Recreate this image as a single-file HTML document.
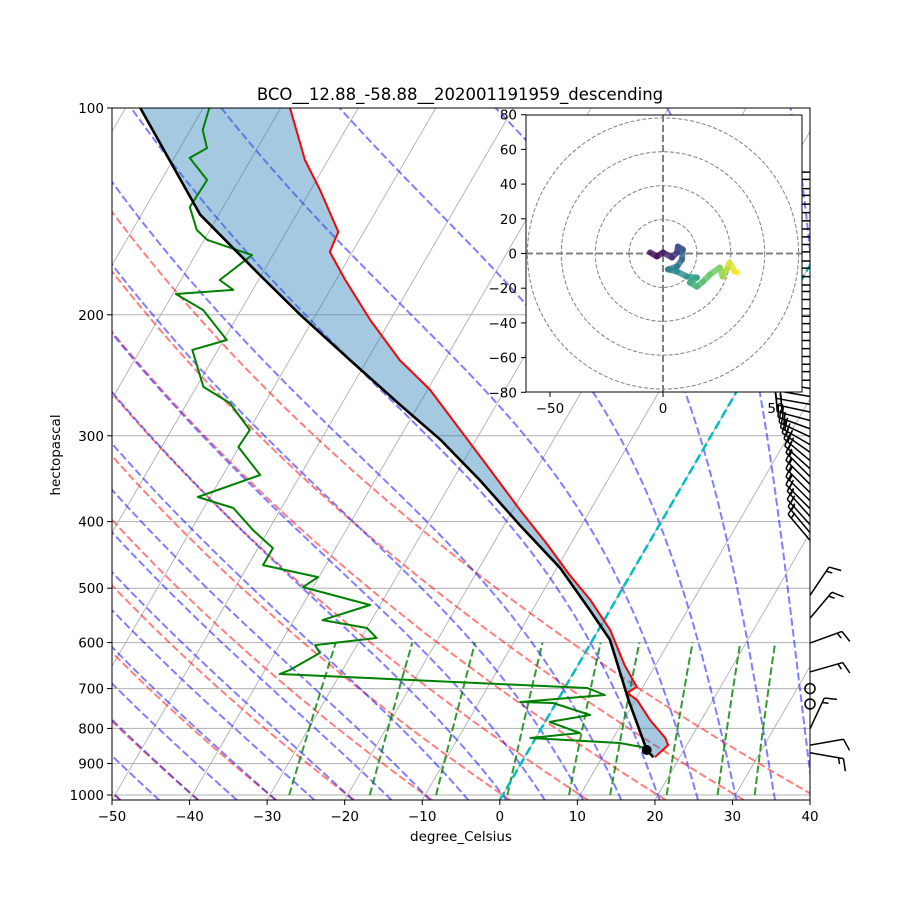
<!DOCTYPE html>
<html><head><meta charset="utf-8"><title>Skew-T</title>
<style>
html,body{margin:0;padding:0;background:#fff;}
svg{display:block;font-family:"DejaVu Sans","Liberation Sans",sans-serif;}
</style></head>
<body>
<svg id="chart" xmlns="http://www.w3.org/2000/svg" width="900" height="900" viewBox="0 0 900 900">
<defs>
<clipPath id="plotclip"><rect x="112" y="108" width="698" height="692"/></clipPath>
<clipPath id="hodoclip"><rect x="526" y="115" width="276" height="277"/></clipPath>
</defs>
<rect x="0" y="0" width="900" height="900" fill="#fff"/>
<text x="460" y="100" font-size="16.5" text-anchor="middle">BCO__12.88_-58.88__202001191959_descending</text>
<g id="bg" clip-path="url(#plotclip)"></g>
<g id="series" clip-path="url(#plotclip)"></g>
<g id="barbs"></g>
<g id="axes"></g>
<g id="hodo"></g>
</svg>
<script>
// ---- data ----
const tempP = [100,119,131.6,151.5,162,178,203.5,232.8,257,294,336.5,384.6,432.6,478.6,520,575,647,696,710,727,778,826,846,881];
const tempT = [-78.8,-73.0,-68.8,-63.3,-62.9,-58.8,-52.6,-45.8,-39.7,-32.8,-25.9,-19.1,-12.9,-7.8,-3.3,1.5,6.0,9.2,8.4,10.2,13.4,16.7,17.6,16.8];
const dewP = [100,107.7,114.4,118.2,127.3,139.4,150.5,155.6,163.7,178,184,186.5,196.8,217.6,225,254.7,268.8,294.2,311.5,342.1,368.3,382.1,411.5,437.1,462.7,481.7,498.1,529,556.4,571.4,590.9,605,621.4,657.7,666.6,698.7,715.2,732.2,734.6,764.7,782.8,812.3,826,840,854.3];
const dewT = [-89.2,-88.4,-86.5,-88.0,-84.1,-84.3,-81.7,-79.6,-72.7,-75.0,-72.5,-79.6,-74.9,-69.6,-73.3,-69.1,-64.5,-59.9,-60.1,-55.2,-61.6,-56.2,-52.0,-48.1,-48.1,-40.1,-41.3,-31.3,-36.3,-30.0,-28.0,-35.4,-34.2,-36.8,-37.8,2.9,5.7,-4.7,-0.4,5.3,0.6,5.3,-0.7,11.2,15.1];
const parcelP = [881,860,727,594,538,467,404.6,348,304,270.5,232.8,200,175,143,100];
const parcelT = [16.6,15.2,9.1,2.2,-2.6,-9.6,-18.0,-26.5,-34.6,-42.4,-52.2,-62.0,-70.2,-82.4,-98.1];
const surfaceP = 860;
const surfaceT = 15.2;
const xTicks = [-50,-40,-30,-20,-10,0,10,20,30,40];
const yTicks = [100,200,300,400,500,600,700,800,900,1000];
const windP = [124,127,131,134,138,142,146,150,154,158,162,167,171,176,181,185,190,196,201,206,212,218,224,230,236,242,249,256,263,270,277,285,293,301,309,317,326,335,344,353,363,373,383,393,404,415,426,512,553,601,662,700,737,801,846,868];
const windDir = [270,270,270,270,270,270,270,270,270,270,270,270,270,270,270,270,270,270,270,270,270,270,270,270,270,270,270,280,280,280,282,285,290,295,300,305,310,312,315,315,315,315,315,318,318,320,320,34,40,70,74,0,0,25,80,100];
const windSpd = [15,15,15,15,15,15,15,15,15,15,15,15,15,15,15,15,15,15,15,15,15,15,15,15,15,15,15,20,20,20,20,20,20,20,20,20,20,20,15,15,15,15,15,15,15,15,15,15,15,15,15,0,0,15,10,15];
const hodoU = [-5.7,-2.7,0,4.0,6.2,6.6,8.8,8.4,6.2,2.2,6.2,10.6,15.0,11.9,15.0,17.7,20.8,25.1,26.4,28.2,29.5,31.7,33.0];
const hodoV = [0.6,-1.7,0.6,-2.3,0.6,4.0,2.3,-3.5,-7.5,-9.2,-10.4,-13.3,-13.9,-16.8,-19.1,-16.2,-12.1,-8.1,-13.3,-9.2,-5.2,-10.4,-11.0];
const hodoXTicks = [-50,0,50];
const hodoYTicks = [80,60,40,20,0,-20,-40,-60,-80];
const hodoRings = [15,30,45,60];

// ---- scales ----
const NS = "http://www.w3.org/2000/svg";
const pBottom = 100*Math.pow(10,692/687);
function Y(p){ return 108 + 687*Math.log10(p/100); }
function X(T,p){ return 112 + (T+50)*7.756 + (800 - Y(p))*0.58; }
function mk(tag, attrs, parent){ const e=document.createElementNS(NS,tag); for(const k in attrs) e.setAttribute(k,attrs[k]); parent.appendChild(e); return e; }
function pathFrom(ps, ts){ let d=""; for(let i=0;i<ps.length;i++){ d += (i?"L":"M") + X(ts[i],ps[i]).toFixed(1)+","+Y(ps[i]).toFixed(1); } return d; }
const bg=document.getElementById('bg'), series=document.getElementById('series'), axes=document.getElementById('axes'), barbs=document.getElementById('barbs'), hodo=document.getElementById('hodo');
const DASH='7.7 3.3';

for(const p of yTicks){
  const l=mk('line',{x1:112,x2:810,y1:Y(p),y2:Y(p),stroke:'#b0b0b0','stroke-width':1},bg);
  
  
}
for(let T=-170;T<=40;T+=10){
  const l=mk('line',{x1:X(T,pBottom),y1:800,x2:X(T,100),y2:108,stroke:'#b0b0b0','stroke-width':0.9},bg);
  
  
}
for(let th=-50;th<=40;th+=10){
  let d="";
  for(let p=pBottom,i=0;p>=99;p-=10,i++){ const T=(th+273.15)*Math.pow(p/1000,0.2857)-273.15; d+=(i?"L":"M")+X(T,p).toFixed(1)+","+Y(p).toFixed(1); }
  const l=mk('path',{d:d,fill:'none',stroke:'#ff0000','stroke-opacity':0.5,'stroke-width':2,'stroke-dasharray':DASH},bg);
  
  
}
function es(Tk){ const tc=Tk-273.15; return 6.112*Math.exp(17.67*tc/(tc+243.5)); }
function dTdp(T,p){ const e=es(T); const rs=0.622*e/(p-e); const Rd=287.04,Cp=1005.7,Lv=2.501e6; return (1/p)*(Rd*T+Lv*rs)/(Cp+Lv*Lv*rs*0.622/(Rd*T*T)); }
for(let t0=-50;t0<=45;t0+=5){
  const pts=[];
  let T=t0+273.15; for(let p=1000;p>=100;p-=2){ pts.push([p,T]); const k1=dTdp(T,p), k2=dTdp(T-k1,p-1); T=T-2*k2; }
  T=t0+273.15; const low=[]; for(let p=1000;p<=pBottom+2;p+=2){ low.push([p,T]); T=T+2*dTdp(T,p+1); }
  const all=low.reverse().concat(pts);
  let d=""; all.forEach((q,i)=>{ d+=(i?"L":"M")+X(q[1]-273.15,q[0]).toFixed(1)+","+Y(q[0]).toFixed(1); });
  const l=mk('path',{d:d,fill:'none',stroke:'#0000ff','stroke-opacity':0.5,'stroke-width':2,'stroke-dasharray':DASH},bg);
  
  
}
for(const w of [0.0004,0.001,0.002,0.004,0.007,0.01,0.016,0.024,0.032]){
  let d="";
  for(let p=1000,i=0;p>=600;p-=20,i++){ const e=p*w/(0.622+w); const a=Math.log(e/6.112); const Td=243.5*a/(17.67-a); d+=(i?"L":"M")+X(Td,p).toFixed(1)+","+Y(p).toFixed(1); }
  const l=mk('path',{d:d,fill:'none',stroke:'#008000','stroke-opacity':0.8,'stroke-width':2,'stroke-dasharray':DASH},bg);
  
  
}
const zl=mk('line',{x1:X(0,pBottom),y1:800,x2:X(0,100),y2:108,stroke:'#00bfbf','stroke-width':2.5,'stroke-dasharray':'9 4'},bg);



let fd=pathFrom(tempP,tempT);
for(let i=0;i<parcelP.length;i++) fd+="L"+X(parcelT[i],parcelP[i]).toFixed(1)+","+Y(parcelP[i]).toFixed(1);
const fill=mk('path',{d:fd+"Z",fill:'#1f77b4','fill-opacity':0.4,stroke:'none'},series);


const tl=mk('path',{d:pathFrom(tempP,tempT),fill:'none',stroke:'#ff0000','stroke-width':2,'stroke-linejoin':'round'},series);


const dl=mk('path',{d:pathFrom(dewP,dewT),fill:'none',stroke:'#008000','stroke-width':2,'stroke-linejoin':'round'},series);


const pl=mk('path',{d:pathFrom(parcelP,parcelT),fill:'none',stroke:'#000','stroke-width':2.6},series);


const sd=mk('circle',{cx:X(surfaceT,surfaceP),cy:Y(surfaceP),r:5,fill:'#000'},series);



for(let i=0;i<windP.length;i++){
  const bx=810, by=Y(windP[i]);
  const g=mk('g',{},barbs);
  
  
  if(windSpd[i]<2.5){ mk('circle',{cx:bx,cy:by,r:5,fill:'none',stroke:'#000','stroke-width':1.5},g); continue; }
  const a=windDir[i]*Math.PI/180, vx=Math.sin(a), vy=-Math.cos(a), L=34;
  const ex=bx+L*vx, ey=by+L*vy;
  mk('line',{x1:bx,y1:by,x2:ex,y2:ey,stroke:'#000','stroke-width':1.5},g);
  const px=-vy, py=vx;
  let s=windSpd[i], pos=0;
  while(s>=10){ const sx=ex-pos*vx, sy=ey-pos*vy; mk('line',{x1:sx,y1:sy,x2:sx+12*px+4*vx,y2:sy+12*py+4*vy,stroke:'#000','stroke-width':1.5},g); s-=10; pos+=5; }
  if(s>=5){ if(pos===0) pos=5; const sx=ex-pos*vx, sy=ey-pos*vy; mk('line',{x1:sx,y1:sy,x2:sx+6*px+2*vx,y2:sy+6*py+2*vy,stroke:'#000','stroke-width':1.5},g); }
}

const fr=mk('rect',{x:112,y:108,width:698,height:692,fill:'none',stroke:'#000','stroke-width':1},axes);


for(const t of xTicks){
  const x=112+(t+50)*7.756;
  mk('line',{x1:x,x2:x,y1:800,y2:805,stroke:'#000'},axes);
  const tx=mk('text',{x:x,y:821,'font-size':13.5,'text-anchor':'middle'},axes); tx.textContent=t<0?'\u2212'+(-t):String(t);
  
  
}
for(const p of yTicks){
  const y=Y(p);
  mk('line',{x1:107,x2:112,y1:y,y2:y,stroke:'#000'},axes);
  const tx=mk('text',{x:104,y:y+5,'font-size':13.5,'text-anchor':'end'},axes); tx.textContent=String(p);
  
  
}
const xt=mk('text',{x:461,y:841,'font-size':13.5,'text-anchor':'middle'},axes); xt.textContent='degree_Celsius';


const yt=mk('text',{x:60,y:455,'font-size':13.5,'text-anchor':'middle',transform:'rotate(-90 60 455)'},axes); yt.textContent='hectopascal';



const HX0=663, HY0=253.5, HSX=2.26, HSY=1.735;
const hb=mk('rect',{x:526,y:115,width:276,height:277,fill:'#fff',stroke:'none'},hodo);


const hg=mk('g',{'clip-path':'url(#hodoclip)'},hodo);
for(const r of hodoRings){
  const c=mk('circle',{cx:HX0,cy:HY0,r:r*HSX,fill:'none',stroke:'#808080','stroke-width':1,'stroke-dasharray':'4 2'},hg);
  
  
}
mk('line',{x1:526,x2:802,y1:HY0,y2:HY0,stroke:'#808080','stroke-width':2,'stroke-dasharray':'7 3'},hg);
mk('line',{x1:HX0,x2:HX0,y1:115,y2:392,stroke:'#808080','stroke-width':2,'stroke-dasharray':'7 3'},hg);
const vir=[[68,1,84],[59,82,139],[33,145,140],[94,201,98],[253,231,37]];
function vcol(f){ const s=f*(vir.length-1), i=Math.min(Math.floor(s),vir.length-2), t=s-i; const c=vir[i].map((v,k)=>Math.round(v+(vir[i+1][k]-v)*t)); return 'rgb('+c.join(',')+')'; }
for(let i=0;i<hodoU.length-1;i++){
  const s=mk('line',{x1:HX0+hodoU[i]*HSX,y1:HY0-hodoV[i]*HSY,x2:HX0+hodoU[i+1]*HSX,y2:HY0-hodoV[i+1]*HSY,stroke:vcol(i/(hodoU.length-2)),'stroke-width':6,'stroke-linecap':'round','stroke-opacity':0.8},hg);
  
  
}
const hf=mk('rect',{x:526,y:115,width:276,height:277,fill:'none',stroke:'#000','stroke-width':1},hodo);


for(const t of hodoXTicks){
  const x=HX0+t*HSX;
  mk('line',{x1:x,x2:x,y1:392,y2:397,stroke:'#000'},hodo);
  const tx=mk('text',{x:x,y:413,'font-size':13.5,'text-anchor':'middle'},hodo); tx.textContent=t<0?'\u2212'+(-t):String(t);
  
  
}
for(const t of hodoYTicks){
  const y=HY0-t*HSY;
  mk('line',{x1:521,x2:526,y1:y,y2:y,stroke:'#000'},hodo);
  const tx=mk('text',{x:517,y:y+5,'font-size':13.5,'text-anchor':'end'},hodo); tx.textContent=t<0?'\u2212'+(-t):String(t);
  
  
}
</script>
</body></html>
